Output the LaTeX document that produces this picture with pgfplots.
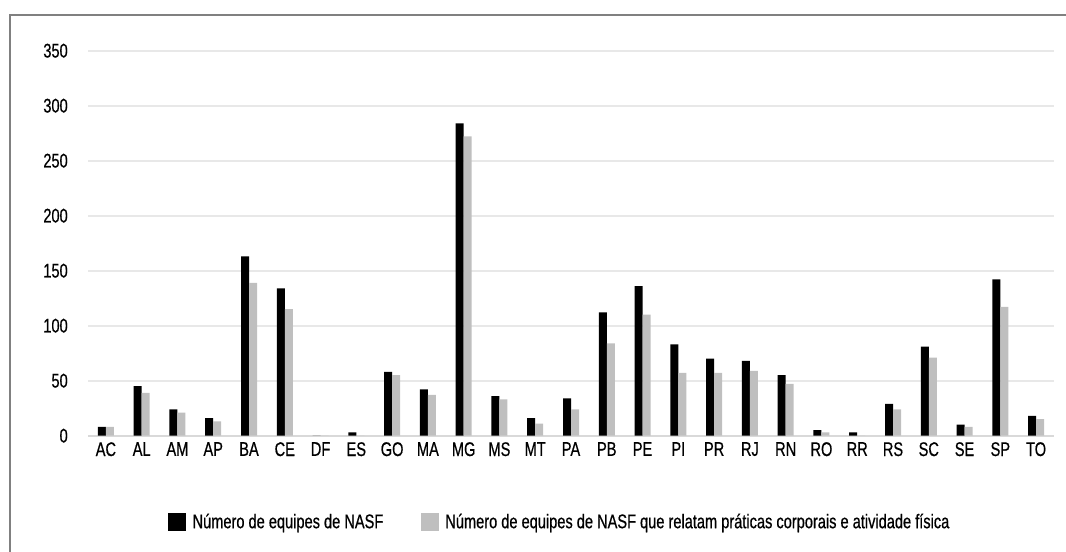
\documentclass[border=0pt]{standalone}
\usepackage{pgfplots}
\usepackage{pgfplotstable}
\pgfplotsset{compat=1.18}
\usepackage{fontspec}
\setmainfont{Liberation Sans}[FakeStretch=0.74, FakeBold=0.6]
\definecolor{bargray}{HTML}{BFBFBF}
\definecolor{gridgray}{HTML}{E8E8E8}
\definecolor{axisgray}{HTML}{D9D9D9}
\definecolor{framegray}{HTML}{808080}
\newcommand\chartfont{\fontsize{14.8pt}{17pt}\selectfont}

% uf, equipes NASF, equipes que relatam praticas corporais
\pgfplotstableread{
idx uf nasf pc
0  AC 8   8
1  AL 45  39
2  AM 24  21
3  AP 16  13
4  BA 163 139
5  CE 134 115
6  DF 0   0
7  ES 3   0
8  GO 58  55
9  MA 42  37
10 MG 284 272
11 MS 36  33
12 MT 16  11
13 PA 34  24
14 PB 112 84
15 PE 136 110
16 PI 83  57
17 PR 70  57
18 RJ 68  59
19 RN 55  47
20 RO 5   3
21 RR 3   0
22 RS 29  24
23 SC 81  71
24 SE 10  8
25 SP 142 117
26 TO 18  15
}\datatable

\begin{document}
\begin{tikzpicture}[x=0.75pt,y=0.75pt]
\useasboundingbox (0,0) rectangle (1066,552);
\draw[framegray, line width=1pt] (10,-10) -- (10,537) -- (1076,537);
\begin{axis}[
    at={(66pt,87.225pt)}, anchor=south west,
    scale only axis,
    width=724.5pt, height=288.75pt,
    ybar=0pt,
    bar width=6pt,
    xmin=-0.5, xmax=26.5,
    ymin=0, ymax=350,
    ytick={0,50,...,350},
    xtick=data,
    xticklabels from table={\datatable}{uf},
    ymajorgrids,
    grid style={gridgray, line width=1.3pt},
    axis x line*=bottom,
    axis y line*=left,
    x axis line style={axisgray, line width=1.3pt},
    y axis line style={draw=none},
    major tick length=0pt,
    tick style={draw=none},
    /pgf/number format/assume math mode=true,
    ticklabel style={font=\chartfont, inner sep=0pt},
    yticklabel style={xshift=-15pt},
    xticklabel style={yshift=-4.7pt},
    legend style={at={(0.4886,-0.224)}, anchor=center, draw=none,
        font=\chartfont, legend columns=2,
        /tikz/every odd column/.append style={column sep=3pt},
        /tikz/every even column/.append style={column sep=26pt}},
    legend image code/.code={\fill[#1] (0pt,-6.75pt) rectangle (13.5pt,6.75pt);},
]
\addplot[fill=black, draw=none] table[x=idx, y=nasf]{\datatable};
\addplot[fill=bargray, draw=none] table[x=idx, y=pc]{\datatable};
\legend{Número de equipes de NASF, Número de equipes de NASF que relatam práticas corporais e atividade física}
\end{axis}
\end{tikzpicture}
\end{document}
